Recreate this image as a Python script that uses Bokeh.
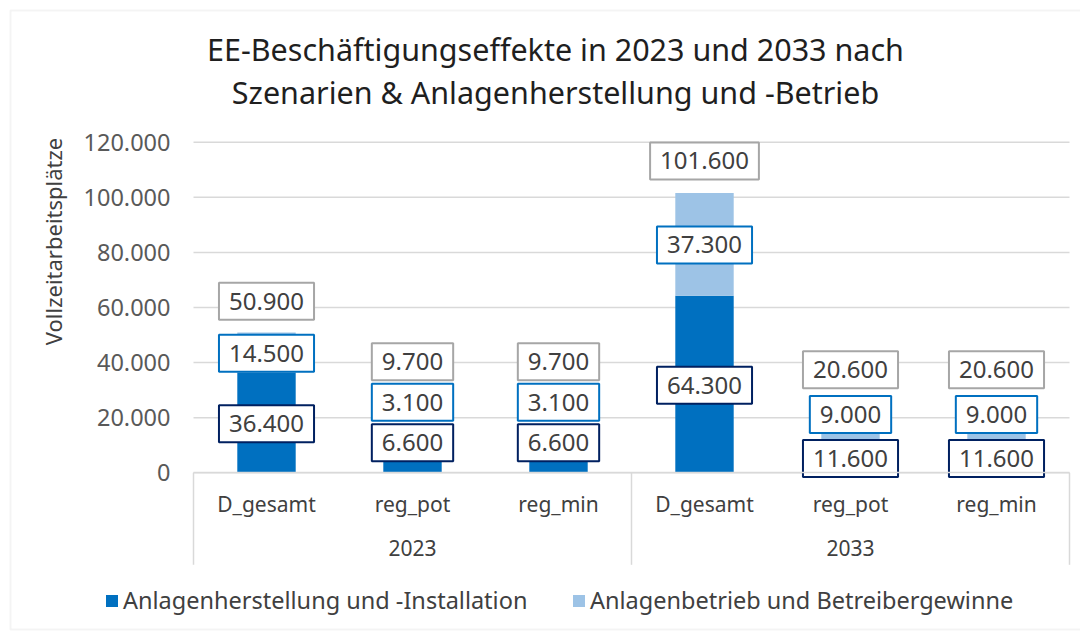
import math
from bokeh.plotting import figure
from bokeh.models import (Range1d, FixedTicker, Label, Legend, LegendItem,
                          BoxAnnotation, ColumnDataSource, LinearAxis)
from bokeh.embed import file_html
from bokeh.resources import INLINE
from bokeh.core.properties import value

# ---------------- data ----------------
years = ["2023", "2033"]
scenarios = ["D_gesamt", "reg_pot", "reg_min"]
herstellung = [36400, 6600, 6600, 64300, 11600, 11600]
betrieb = [14500, 3100, 3100, 37300, 9000, 9000]
totals = [50900, 9700, 9700, 101600, 20600, 20600]
series_names = ["Anlagenherstellung und -Installation",
                "Anlagenbetrieb und Betreibergewinne"]
y_ticks = [0, 20000, 40000, 60000, 80000, 100000, 120000]
y_tick_labels = ["0", "20.000", "40.000", "60.000", "80.000", "100.000", "120.000"]
title_lines = ["EE-Beschäftigungseffekte in 2023 und 2033 nach",
               "Szenarien & Anlagenherstellung und -Betrieb"]
y_title = "Vollzeitarbeitsplätze"

# ---------------- layout of value boxes (vertical centre, data units) ----------------
lab_y_herst = [17800, 10900, 10900, 31800, 5200, 5200]
lab_y_betr = [43400, 25600, 25600, 82700, 21200, 21200]
lab_y_total = [62300, 40300, 40300, 113200, 37400, 37400]

FONT = "Noto Sans"
DARK = "#0070C0"
LIGHT = "#9DC3E6"
GRID = "#D9D9D9"
TXT = "#404040"

# canvas geometry (pixels)
W, H = 1080, 631
PX0, PX1 = 193.0, 1069.0      # plot area left / right
PY0, PY1 = 472.3, 141.7       # pixel rows of y=0 and y=120000
SEP_PX = 92                   # length of the category separators below the axis
YMAX = 120000

n = len(years) * len(scenarios)
xs = [i + 0.5 for i in range(n)]
cats = [s for y in years for s in scenarios]

kx = (PX1 - PX0) / n
ky = (PY0 - PY1) / YMAX
x_range = Range1d(-PX0 / kx, n + (W - PX1) / kx)
y_range = Range1d(-(H - PY0) / ky, YMAX + PY1 / ky)


def fmt(v):
    return f"{v:,}".replace(",", ".")


p = figure(width=W, height=H, x_range=x_range, y_range=y_range,
           output_backend="svg", toolbar_location=None, min_border=0,
           min_border_left=0, min_border_right=0, min_border_top=0, min_border_bottom=0)
p.title.visible = False
p.outline_line_color = None
p.background_fill_color = "white"
p.border_fill_color = "white"
p.xgrid.visible = False
p.ygrid.visible = False

# gridlines across the plot area
p.segment(x0=[0] * len(y_ticks), y0=y_ticks, x1=[n] * len(y_ticks), y1=y_ticks,
          line_color=GRID, line_width=1.5)

# category separators below the axis
bounds_x = [i * len(scenarios) for i in range(len(years) + 1)]
p.segment(x0=bounds_x, y0=[0] * len(bounds_x), x1=bounds_x,
          y1=[-SEP_PX / ky] * len(bounds_x), line_color=GRID, line_width=1.5)

# y axis
ya = p.yaxis[0]
ya.fixed_location = 0
ya.bounds = (0, YMAX)
ya.ticker = FixedTicker(ticks=y_ticks)
ya.major_label_overrides = {t: l for t, l in zip(y_ticks, y_tick_labels)}
ya.axis_line_color = None
ya.major_tick_line_color = None
ya.minor_tick_line_color = None
ya.major_tick_out = 0
ya.major_tick_in = 0
ya.major_label_standoff = 23
ya.major_label_text_font = FONT
ya.major_label_text_font_size = "23.5px"
ya.major_label_text_color = "#595959"

# x axis (scenario labels)
xa = p.xaxis[0]
xa.fixed_location = 0
xa.bounds = (0, n)
xa.ticker = FixedTicker(ticks=xs)
xa.major_label_overrides = {x: c for x, c in zip(xs, cats)}
xa.major_tick_line_color = None
xa.minor_tick_line_color = None
xa.major_tick_out = 0
xa.major_tick_in = 0
xa.axis_line_color = GRID
xa.axis_line_width = 1.5
xa.major_label_standoff = 17
xa.major_label_text_font = FONT
xa.major_label_text_font_size = "21px"
xa.major_label_text_color = TXT

# group labels (years)
grp_ticks = [(i + 0.5) * len(scenarios) for i in range(len(years))]
grp = LinearAxis(fixed_location=0, bounds=(0, n),
                 ticker=FixedTicker(ticks=grp_ticks),
                 axis_line_color=None, major_tick_line_color=None, minor_tick_line_color=None,
                 major_tick_out=0, major_tick_in=0, major_label_standoff=67,
                 major_label_text_font=FONT, major_label_text_font_size="21px",
                 major_label_text_color=TXT)
grp.major_label_overrides = {t: yr for t, yr in zip(grp_ticks, years)}
p.add_layout(grp, "below")

# bars
src = ColumnDataSource(dict(x=xs, h=herstellung, b=betrieb))
rs = p.vbar_stack(["h", "b"], x="x", width=0.4, color=[DARK, LIGHT], line_color=None,
                  source=src)

# value boxes
for ys, vals, col in [(lab_y_herst, herstellung, "#002060"),
                      (lab_y_betr, betrieb, "#0070C0"),
                      (lab_y_total, totals, "#A6A6A6")]:
    s = ColumnDataSource(dict(x=xs, y=ys, t=[fmt(v) for v in vals]))
    p.text(x="x", y="y", text="t", source=s, text_align="center", text_baseline="middle",
           text_font=value(FONT), text_font_size="24px", text_color=TXT,
           background_fill_color="white", border_line_color=col, border_line_width=2,
           padding=(10, 10))

# title (two lines)
for base, line in zip([48, 91], title_lines):
    p.add_layout(Label(x=555, y=H - base, x_units="screen", y_units="screen", text=line,
                       text_align="center", text_baseline="alphabetic",
                       text_font=FONT, text_font_size="30.5px", text_color="#1F1F1F"))

# y axis title
p.add_layout(Label(x=52, y=H - 241, x_units="screen", y_units="screen", text=y_title,
                   angle=math.pi / 2, text_align="center", text_baseline="middle",
                   text_font=FONT, text_font_size="22px", text_color=TXT))

# legends
for r, name, lx in [(rs[0], series_names[0], 104), (rs[1], series_names[1], 571)]:
    leg = Legend(items=[LegendItem(label=name, renderers=[r])], location=(lx, H - 616),
                 orientation="horizontal", glyph_width=15, glyph_height=15,
                 label_standoff=4, padding=0, margin=0, border_line_color=None,
                 background_fill_alpha=0, label_text_font=FONT,
                 label_text_font_size="23.5px", label_text_color=TXT)
    p.add_layout(leg)

# outer chart border
p.add_layout(BoxAnnotation(left=10, right=W + 20, top=H - 10, bottom=2,
                           left_units="screen", right_units="screen",
                           top_units="screen", bottom_units="screen",
                           fill_alpha=0, line_color=GRID, line_width=2))

open("out.html", "w").write(file_html(p, INLINE))
